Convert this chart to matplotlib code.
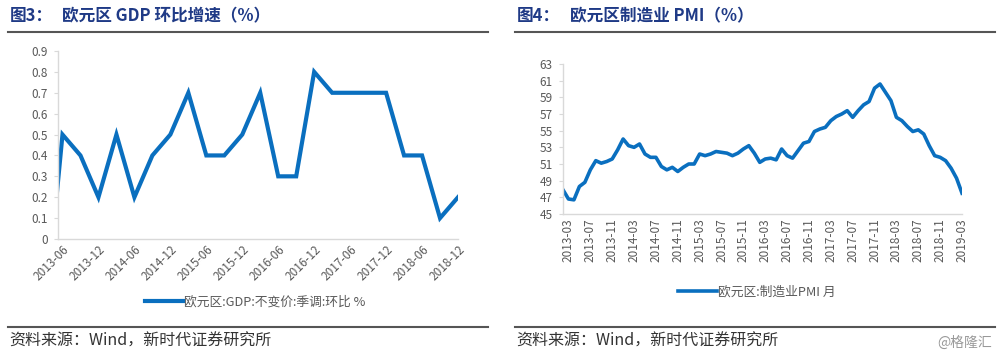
import matplotlib
matplotlib.use("Agg")
import matplotlib.pyplot as plt
from matplotlib.lines import Line2D

plt.rcParams['font.family'] = ['Noto Sans CJK SC', 'DejaVu Sans']

# ---- data: Eurozone GDP QoQ (%), quarterly, 2013-03 .. 2018-12
gdp_quarters = ['2013-03', '2013-06', '2013-09', '2013-12', '2014-03', '2014-06', '2014-09', '2014-12',
                '2015-03', '2015-06', '2015-09', '2015-12', '2016-03', '2016-06', '2016-09', '2016-12',
                '2017-03', '2017-06', '2017-09', '2017-12', '2018-03', '2018-06', '2018-09', '2018-12']
gdp_values = [-0.4, 0.5, 0.4, 0.2, 0.5, 0.2, 0.4, 0.5,
              0.7, 0.4, 0.4, 0.5, 0.7, 0.3, 0.3, 0.8,
              0.7, 0.7, 0.7, 0.7, 0.4, 0.4, 0.1, 0.2]
gdp_tick_labels = ['2013-06', '2013-12', '2014-06', '2014-12', '2015-06', '2015-12',
                   '2016-06', '2016-12', '2017-06', '2017-12', '2018-06', '2018-12']

# ---- data: Eurozone manufacturing PMI, monthly, 2013-02 .. 2019-03
pmi_start_year, pmi_start_month = 2013, 2
pmi_values = [47.9, 46.8, 46.7, 48.3, 48.8, 50.3, 51.4, 51.1, 51.3, 51.6, 52.7,
              54.0, 53.2, 53.0, 53.4, 52.2, 51.8, 51.8, 50.7, 50.3, 50.6, 50.1, 50.6,
              51.0, 51.0, 52.2, 52.0, 52.2, 52.5, 52.4, 52.3, 52.0, 52.3, 52.8, 53.2,
              52.3, 51.2, 51.6, 51.7, 51.5, 52.8, 52.0, 51.7, 52.6, 53.5, 53.7, 54.9,
              55.2, 55.4, 56.2, 56.7, 57.0, 57.4, 56.6, 57.4, 58.1, 58.5, 60.1, 60.6,
              59.6, 58.6, 56.6, 56.2, 55.5, 54.9, 55.1, 54.6, 53.2, 52.0, 51.8, 51.4,
              50.5, 49.3, 47.5]
pmi_tick_labels = ['2013-03', '2013-07', '2013-11', '2014-03', '2014-07', '2014-11', '2015-03',
                   '2015-07', '2015-11', '2016-03', '2016-07', '2016-11', '2017-03', '2017-07',
                   '2017-11', '2018-03', '2018-07', '2018-11', '2019-03']

BLUE = '#0A6FBF'
TITLE_C = '#1F3A86'
AX_C = '#D9D9D9'
TXT_C = '#595959'

W, H = 1000, 359
fig = plt.figure(figsize=(W / 100, H / 100), dpi=100)
fig.patch.set_facecolor('white')

def fx(px):
    return px / W

def fy(py):
    return 1 - py / H

def style_axes(ax):
    for s in ['top', 'right']:
        ax.spines[s].set_visible(False)
    for s in ['left', 'bottom']:
        ax.spines[s].set_color(AX_C)
        ax.spines[s].set_linewidth(1.0)
    ax.tick_params(axis='both', colors=AX_C, labelcolor=TXT_C, labelsize=8.5, length=3, width=0.8)
    ax.tick_params(axis='y', pad=4.5)
    ax.tick_params(axis='x', length=0, pad=3)

# ---- left chart
ax1 = fig.add_axes([fx(58), fy(239), fx(458) - fx(58), fy(51) - fy(239)])
x1 = list(range(-1, len(gdp_values) - 1))
ax1.plot(x1, gdp_values, color=BLUE, lw=3.0, solid_joinstyle='miter',
         label='欧元区:GDP:不变价:季调:环比 %')
ax1.set_xlim(-0.25, len(gdp_values) - 2)
ax1.set_ylim(0, 0.9)
ax1.set_yticks([i / 10 for i in range(10)])
ax1.set_yticklabels(['0'] + [f'{i/10:.1f}' for i in range(1, 10)])
ax1.set_xticks(list(range(0, len(gdp_values) - 1, 2)))
ax1.set_xticklabels(gdp_tick_labels, rotation=45, ha='right', rotation_mode='anchor')
style_axes(ax1)
ax1.legend(loc='center', bbox_to_anchor=(fx(255), fy(302)), bbox_transform=fig.transFigure,
           frameon=False, fontsize=9.2, handlelength=3.0, handletextpad=0.1,
           labelcolor=TXT_C)

# ---- right chart
ax2 = fig.add_axes([fx(563), fy(214), fx(962) - fx(563), fy(64) - fy(214)])
x2 = list(range(len(pmi_values)))
ax2.plot(x2, pmi_values, color=BLUE, lw=2.6, label='欧元区:制造业PMI 月')
ax2.set_xlim(0, len(pmi_values) - 1)
ax2.set_ylim(45, 63)
ax2.set_yticks(list(range(45, 64, 2)))
ax2.set_xticks(list(range(1, len(pmi_values), 4)))
ax2.set_xticklabels(pmi_tick_labels, rotation=90, ha='center', va='top')
style_axes(ax2)
ax2.legend(loc='center', bbox_to_anchor=(fx(757), fy(292)), bbox_transform=fig.transFigure,
           frameon=False, fontsize=9.2, handlelength=3.0, handletextpad=0.1,
           labelcolor=TXT_C)

# ---- titles, rules, footers
fig.text(fx(10), fy(16), '图3：', fontsize=12, fontweight='bold', color=TITLE_C, va='center')
fig.text(fx(62), fy(16), '欧元区 GDP 环比增速（%）', fontsize=12, fontweight='bold',
         color=TITLE_C, va='center')
fig.text(fx(517), fy(16), '图4：', fontsize=12, fontweight='bold', color=TITLE_C, va='center')
fig.text(fx(570), fy(16), '欧元区制造业 PMI（%）', fontsize=12, fontweight='bold',
         color=TITLE_C, va='center')

for (a, b) in [(8, 488), (515, 995)]:
    fig.add_artist(Line2D([fx(a), fx(b)], [fy(32), fy(32)], color='#555555', lw=1.5))
    fig.add_artist(Line2D([fx(a), fx(b)], [fy(327), fy(327)], color='#555555', lw=1.5))

fig.text(fx(9), fy(341), '资料来源：Wind，新时代证券研究所', fontsize=11.5, color='#333333', va='center')
fig.text(fx(516), fy(341), '资料来源：Wind，新时代证券研究所', fontsize=11.5, color='#333333', va='center')
fig.text(fx(992), fy(343), '@格隆汇', fontsize=10, color='#999999', va='center', ha='right')

fig.savefig('out.png', dpi=100, facecolor='white')
